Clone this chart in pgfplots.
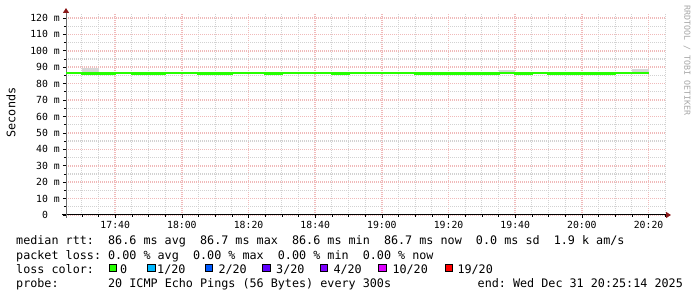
\documentclass[border=0pt]{standalone}
\usepackage{pgfplots}
\pgfplotsset{compat=1.18}
\usepackage{fontspec}
\usetikzlibrary{arrows.meta}
\newfontfamily\mono{DejaVu Sans Mono}
\newcommand\legfont{\mono\fontsize{11.75}{14}\selectfont}
\newcommand\tickfont{\mono\fontsize{9.8}{11}\selectfont}
\newcommand\wmfont{\mono\fontsize{8.3}{9}\selectfont}
\definecolor{lossgreen}{HTML}{26FF00}
\definecolor{loss1}{HTML}{00B8FF}
\definecolor{loss2}{HTML}{0059FF}
\definecolor{loss3}{HTML}{5E00FF}
\definecolor{loss4}{HTML}{7E00FF}
\definecolor{loss10}{HTML}{DD00FF}
\definecolor{loss19}{HTML}{FF0000}
\definecolor{smoke}{HTML}{D6D6D6}
\definecolor{mgrid}{HTML}{F0BABA}
\definecolor{ngrid}{HTML}{D2D2D2}
\definecolor{arrowred}{HTML}{8B1A1A}
\definecolor{yaxisgray}{HTML}{707070}
\frenchspacing
\begin{document}
\begin{tikzpicture}[x=1pt,y=1pt]
\path[use as bounding box] (0,0) rectangle (697,297);
\begin{axis}[
  at={(66pt,82pt)}, anchor=south west,
  scale only axis, width=600pt, height=202pt,
  xmin=1045.233, xmax=1225.233, ymin=0, ymax=123,
  axis x line=bottom, axis y line=left,
  x axis line style={black, line width=1pt, shorten <=-4pt, shorten >=-5pt, -{Triangle[length=5pt,width=6pt,color=arrowred]}},
  y axis line style={yaxisgray, line width=1pt, shorten <=-3pt, shorten >=-5pt, -{Triangle[length=5pt,width=6pt,color=arrowred]}},
  xtick={1060,1080,1100,1120,1140,1160,1180,1200,1220},
  xticklabels={17:40,18:00,18:20,18:40,19:00,19:20,19:40,20:00,20:20},
  minor xtick={1050,1055,1065,1070,1075,1085,1090,1095,1105,1110,1115,1125,1130,1135,1145,1150,1155,1165,1170,1175,1185,1190,1195,1205,1210,1215,1225},
  ytick={0,10,20,30,40,50,60,70,80,90,100,110,120},
  yticklabels={0\phantom{\ m},10 m,20 m,30 m,40 m,50 m,60 m,70 m,80 m,90 m,100 m,110 m,120 m},
  minor ytick={5,15,25,35,45,55,65,75,85,95,105,115},
  tick align=outside,
  major tick length=3pt, minor tick length=2pt,
  every tick/.style={black, line width=0.7pt},
  grid=both,
  major grid style={mgrid, line width=1.6pt, dash pattern=on 1pt off 1pt},
  minor grid style={ngrid, line width=1.2pt, dash pattern=on 1pt off 1pt},
  xticklabel style={font=\tickfont, anchor=north, inner sep=0pt, yshift=-3pt},
  yticklabel style={font=\tickfont, anchor=east, inner sep=0pt, xshift=-3pt},
  clip=true,
]
% smoke (spread of pings)
\addplot[fill=smoke, draw=none] coordinates {(1050,87.3) (1050,89.5) (1055,89.5) (1055,87.3)} -- cycle;
\addplot[fill=smoke, draw=none] coordinates {(1175,87.3) (1175,88.3) (1180,88.3) (1180,87.3)} -- cycle;
\addplot[fill=smoke, draw=none] coordinates {(1215,87.3) (1215,88.9) (1220,88.9) (1220,87.3)} -- cycle;
% median rtt (ms), 5-minute steps
\addplot[const plot, lossgreen, line width=2.4pt] coordinates {
(1045.233,86.6) (1050,86.2) (1060,86.6) (1065,86.2) (1075,86.6) (1085,86.2)
(1095,86.6) (1105,86.2) (1110,86.6) (1125,86.2) (1130,86.6) (1150,86.2)
(1175,86.6) (1180,86.2) (1185,86.6) (1190,86.2) (1210,86.6) (1220,86.6)
};
\end{axis}
\node[rotate=90, font=\legfont, inner sep=0pt] at (11,184.5) {Seconds};
\node[rotate=-90, anchor=west, font=\wmfont, text=black!35, inner sep=0pt] at (687,292) {RRDTOOL / TOBI OETIKER};
\node[anchor=base west, inner sep=0pt, font=\legfont] at (16,52) {median rtt:\ \ 86.6 ms avg\ \ 86.7 ms max\ \ 86.6 ms min\ \ 86.7 ms now\ \ 0.0 ms sd\ \ 1.9 k am/s};
\node[anchor=base west, inner sep=0pt, font=\legfont] at (16,37.7) {packet loss: 0.00 \% avg\ \ 0.00 \% max\ \ 0.00 \% min\ \ 0.00 \% now};
\node[anchor=base west, inner sep=0pt, font=\legfont] at (16,23.7) {loss color:};
\foreach \bx/\tx/\col/\lab in {108.3/120/lossgreen/0, 146.5/157/loss1/1\slash 20, 204/218.3/loss2/2\slash 20, 261.7/276/loss3/3\slash 20, 319.3/333.3/loss4/4\slash 20, 377.7/392.3/loss10/10\slash 20, 444.3/457.3/loss19/19\slash 20} {
  \node[draw=black, fill=\col, line width=1pt, minimum size=7.5pt, inner sep=0pt, anchor=south west] at (\bx+0.5,24.5) {};
  \node[anchor=base west, inner sep=0pt, font=\legfont] at (\tx,23.7) {\lab};
}
\node[anchor=base west, inner sep=0pt, font=\legfont] at (16,9.3) {probe:\ \ \ \ \ \ \ 20 ICMP Echo Pings (56 Bytes) every 300s};
\node[anchor=base west, inner sep=0pt, font=\legfont] at (477.5,9.3) {end: Wed Dec 31 20:25:14 2025};
\end{tikzpicture}
\end{document}
